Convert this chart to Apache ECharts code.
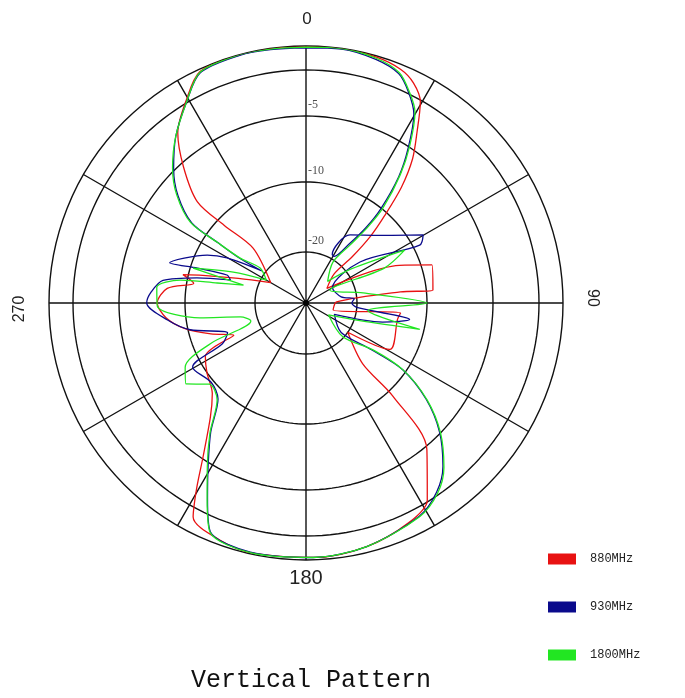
<!DOCTYPE html>
<html><head><meta charset="utf-8">
<script src="https://cdn.jsdelivr.net/npm/echarts@6/dist/echarts.min.js"></script>
<style>html,body{margin:0;padding:0;background:#fff}#c{width:685px;height:698px}</style>
</head><body><div id="c"></div>
<script>
// ---- data (angle in degrees clockwise from top, level in dB) ----
const angle880 = [0, 8, 16, 22, 26, 29.6, 33, 36.5, 39.5, 42, 44, 45, 44, 55, 68, 73.2, 84.1, 83.3, 88, 104.5, 96, 100, 119, 125, 137, 137, 140.5, 148.4, 155, 166, 178, 192, 200, 207.8, 210.6, 213.8, 220, 226, 235, 242, 246, 252, 258, 264, 270, 276, 280, 283, 285, 290, 300, 316, 313.5, 313, 318, 323, 329.4, 335.4, 345, 352, 360];
const level880 = [-0.1, 0, -0.1, -0.4, -1.0, -2.1, -3.9, -5.6, -7.8, -10.5, -14, -18, -22, -25, -12.9, -9.2, -9.5, -13.7, -24, -24.5, -13.7, -14, -13.6, -20, -15.4, -9.5, -4.8, -2.1, -1.2, -0.5, -0.2, -0.1, -0.4, -1.25, -3.2, -5.15, -7.9, -9.3, -10, -11, -16, -13, -9.8, -8.5, -7.9, -8.6, -11, -9.6, -12, -17, -22, -16.4, -11.2, -7.9, -5.3, -3.3, -1.8, -0.2, 0, 0, -0.1];

const angle930 = [0, 8, 16, 22, 26, 29.7, 33.4, 36.3, 38.5, 38.5, 36, 31, 28.4, 32.9, 47.4, 59.8, 63, 52.8, 60, 80, 85, 90, 95, 99, 104, 112, 130, 125.5, 124.6, 128.7, 134, 140, 145.4, 152, 166, 178.4, 192.6, 202.7, 206.7, 211, 216.4, 222.5, 230, 240.5, 244, 249.2, 257, 263, 270, 274, 279, 283, 287, 289.5, 287.8, 286.4, 295.9, 299.7, 306, 304, 304.4, 305, 310, 315.4, 322, 329.4, 335.4, 345, 352, 360];
const level930 = [-0.15, -0.05, -0.3, -0.8, -1.9, -3.0, -5.1, -7.3, -10.2, -13.6, -17, -19.5, -19.4, -15.7, -13, -8.9, -9.5, -17.6, -24, -23, -20.5, -21, -20, -12.3, -16, -24, -21, -15.8, -10.5, -7.5, -5.1, -3.3, -2.2, -1.3, -0.5, -0.2, -0.15, -0.75, -2.9, -4.8, -7.0, -9.3, -9.8, -9.3, -14, -15.3, -10.3, -8.6, -7.1, -7.4, -8.2, -11.3, -16, -15.3, -11, -8.4, -11.6, -14.3, -19.5, -16, -12, -8.6, -6.5, -4.9, -3.4, -1.9, -0.3, -0.05, -0.1, -0.15];

const angle1800 = [0, 8, 16, 22, 26, 29.7, 33.4, 36.3, 39, 39.1, 37.2, 33.4, 45, 53, 61.8, 66, 62, 80, 90, 97, 103, 108, 118, 132.6, 125, 124.6, 128.7, 134, 140, 145.4, 152, 166, 178.4, 192.6, 202.7, 206.7, 211, 216.4, 222.5, 230, 236, 242, 247, 252, 258, 262, 268.8, 276, 280.3, 282.7, 286, 287.2, 293, 300, 307.3, 304.3, 304.4, 304.9, 309.9, 315.4, 322, 329.4, 335.4, 345, 352, 360];
const level1800 = [-0.1, 0, -0.2, -0.7, -1.8, -2.85, -4.9, -7.1, -9.9, -13.4, -16.9, -20.4, -24, -19.2, -11.3, -15.1, -24.7, -19, -10, -18.4, -10.6, -19, -25, -20.2, -15.6, -10.4, -7.4, -5, -3.2, -2.1, -1.25, -0.5, -0.2, -0.1, -0.7, -2.85, -4.7, -6.9, -9.2, -9.6, -8.2, -8.8, -12.5, -19, -17.7, -12, -7.9, -7.8, -9.5, -14.3, -18, -10.4, -16, -21, -19, -15.9, -11.9, -8.5, -6.4, -4.8, -3.4, -1.9, -0.25, 0, -0.05, -0.1];

const seriesNames = ['880MHz', '930MHz', '1800MHz'];
const seriesColors = ['#e81212', '#0a0a8c', '#22e622'];
const ringLevels = [-2, -5, -10, -20];
const ringLabelLevels = [-5, -10, -20];
const ringLabelTexts = ['-5', '-10', '-20'];
const angleLabelTexts = ['0', '90', '180', '270'];
const titleText = 'Vertical Pattern';

// ---- radial scale of the plot (dB -> fraction of outer radius) ----
const knotDb = [0, -2, -5, -10, -20, -30];
const knotR = [1, 233 / 257, 187 / 257, 121 / 257, 51 / 257, 0];
function dbToR(db) {
  if (db >= knotDb[0]) return knotR[0];
  for (let i = 1; i < knotDb.length; i++) {
    if (db >= knotDb[i]) {
      const t = (knotDb[i - 1] - db) / (knotDb[i - 1] - knotDb[i]);
      return knotR[i - 1] + t * (knotR[i] - knotR[i - 1]);
    }
  }
  return 0;
}

const allAngles = [angle880, angle930, angle1800];
const allLevels = [level880, level930, level1800];

const series = [];
const sweep = [];
for (let a = 0; a <= 360; a += 2) sweep.push(a);
ringLevels.forEach(lv => {
  series.push({
    type: 'line', coordinateSystem: 'polar', silent: true, symbol: 'none',
    lineStyle: { color: '#111', width: 1.4 }, z: 1,
    data: sweep.map(a => [dbToR(lv), a])
  });
});
series.push({
  type: 'scatter', coordinateSystem: 'polar', silent: true, symbolSize: 0, z: 3,
  data: ringLabelLevels.map((lv, i) => ({ value: [dbToR(lv), 0], name: ringLabelTexts[i] })),
  label: {
    show: true, position: 'right', distance: 2, offset: [0, -11],
    formatter: p => p.name,
    fontFamily: 'Liberation Serif', fontSize: 12, color: '#222'
  }
});
// pole marker
series.push({
  type: 'scatter', coordinateSystem: 'polar', silent: true, symbol: 'circle', symbolSize: 6, z: 10,
  itemStyle: { color: '#000' }, data: [[0, 0]]
});
seriesNames.forEach((nm, i) => {
  series.push({
    name: nm, type: 'line', coordinateSystem: 'polar', symbol: 'none', z: 5 + i,
    smooth: 0.3,
    lineStyle: { color: seriesColors[i], width: 1.3 }, itemStyle: { color: seriesColors[i] },
    data: allAngles[i].map((a, k) => [dbToR(allLevels[i][k]), a])
  });
});

const chart = echarts.init(document.getElementById('c'));
chart.setOption({
  animation: false,
  backgroundColor: '#fff',
  polar: { center: [306, 303], radius: 257 },
  angleAxis: {
    type: 'value', min: 0, max: 360, interval: 30, startAngle: 90, clockwise: true,
    axisLine: { lineStyle: { color: '#111', width: 1.4 } },
    axisTick: { show: false }, axisLabel: { show: false },
    splitLine: { lineStyle: { color: '#111', width: 1.4 } }
  },
  radiusAxis: {
    type: 'value', min: 0, max: 1,
    axisLine: { show: false }, axisTick: { show: false }, axisLabel: { show: false },
    splitLine: { show: false }
  },
  legend: {
    data: seriesNames, orient: 'vertical', left: 548, top: 553,
    itemWidth: 28, itemHeight: 11, itemGap: 36, icon: 'rect', padding: 0,
    textStyle: { fontFamily: 'Liberation Mono', fontSize: 12, color: '#222', padding: [0, 0, 0, 9] }
  },
  graphic: [
    { type: 'text', x: 307, y: 19, style: { text: angleLabelTexts[0], font: '17px Liberation Sans', fill: '#222', textAlign: 'center', textVerticalAlign: 'middle' } },
    { type: 'text', x: 592, y: 298, rotation: -Math.PI / 2, style: { text: angleLabelTexts[1], font: '16px Liberation Sans', fill: '#222', textAlign: 'center', textVerticalAlign: 'middle' } },
    { type: 'text', x: 306, y: 578, style: { text: angleLabelTexts[2], font: '20px Liberation Sans', fill: '#222', textAlign: 'center', textVerticalAlign: 'middle' } },
    { type: 'text', x: 20, y: 309, rotation: Math.PI / 2, style: { text: angleLabelTexts[3], font: '16px Liberation Sans', fill: '#222', textAlign: 'center', textVerticalAlign: 'middle' } },
    { type: 'text', x: 311, y: 680, style: { text: titleText, font: '25px Liberation Mono', fill: '#111', textAlign: 'center', textVerticalAlign: 'middle' } }
  ],
  series: series
});
</script>
</body></html>
